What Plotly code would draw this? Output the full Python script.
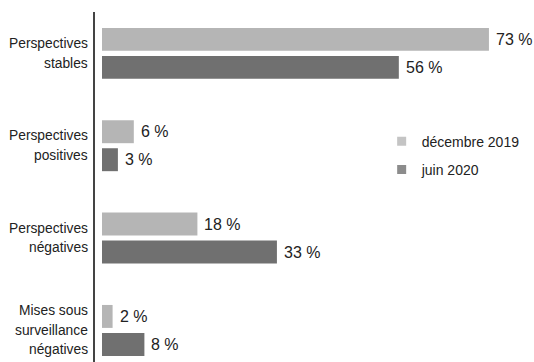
import plotly.graph_objects as go

categories = [
    "Perspectives<br>stables",
    "Perspectives<br>positives",
    "Perspectives<br>négatives",
    "Mises sous<br>surveillance<br>négatives",
]
series_names = ["décembre 2019", "juin 2020"]
dec_2019 = [73, 6, 18, 2]
jun_2020 = [56, 3, 33, 8]

bar_colors = ["#b5b5b5", "#707070"]
legend_colors = ["#c4c4c4", "#8c8c8c"]
text_color = "#222222"
font_family = "Liberation Sans, Arial, sans-serif"

fig = go.Figure()

for values, name, color in zip([dec_2019, jun_2020], series_names, bar_colors):
    fig.add_trace(go.Bar(
        y=categories, x=values, orientation="h", name=name,
        marker=dict(color=color, line=dict(width=0)),
        showlegend=False, hoverinfo="skip",
    ))

# legend entries drawn as small squares
for name, color in zip(series_names, legend_colors):
    fig.add_trace(go.Scatter(
        x=[None], y=[None], mode="markers", name=name, legendgroup=name,
        marker=dict(symbol="square", size=9, color=color),
    ))

# value labels at the end of each bar
offsets = [-14, 14]
for values, dy in zip([dec_2019, jun_2020], offsets):
    for cat, v in zip(categories, values):
        fig.add_annotation(
            x=v, y=cat, text=f"{v} %", showarrow=False,
            xanchor="left", yanchor="middle", xshift=5, yshift=-dy,
            font=dict(size=16, color=text_color, family=font_family),
        )

# category labels, one line per annotation for a looser line spacing
line_step = 19.5
for cat in categories:
    lines = cat.split("<br>")
    n = len(lines)
    for j, line in enumerate(lines):
        fig.add_annotation(
            x=0, xref="paper", y=cat, text=line, showarrow=False,
            xanchor="right", yanchor="middle", xshift=-5,
            yshift=-(j - (n - 1) / 2) * line_step,
            font=dict(size=13.8, color=text_color, family=font_family),
        )

fig.update_layout(
    width=534, height=362,
    margin=dict(l=95, r=0, t=12, b=0),
    paper_bgcolor="white", plot_bgcolor="white",
    barmode="group", bargap=0.394, bargroupgap=0.18,
    font=dict(family=font_family, color=text_color, size=14),
    legend=dict(
        x=0.653, y=0.675, xanchor="left", yanchor="top",
        traceorder="grouped", tracegroupgap=7,
        font=dict(size=14, color=text_color),
        bgcolor="rgba(0,0,0,0)",
    ),
    xaxis=dict(
        range=[-1.32, 81.5], visible=False, showgrid=False, zeroline=False,
    ),
    yaxis=dict(
        type="category", range=[3.342, -0.448],
        showline=True, linecolor="#444444", linewidth=1.5,
        showgrid=False, zeroline=False, ticks="",
        showticklabels=False,
    ),
)

fig.write_html("out.html")
